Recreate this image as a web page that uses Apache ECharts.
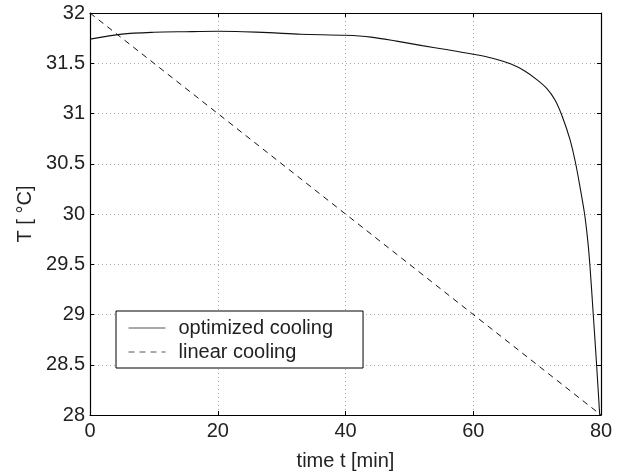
<!DOCTYPE html>
<html>
<head>
<meta charset="utf-8">
<script src="https://cdn.jsdelivr.net/npm/echarts@6/dist/echarts.min.js"></script>
<style>
html,body{margin:0;padding:0;background:#fff;}
#chart{width:627px;height:476px;}
</style>
</head>
<body>
<div id="chart"></div>
<script>
var timeOpt = [0, 5, 10, 15, 20, 24, 28, 33, 40, 44, 48, 52, 56, 60, 63, 66, 68, 70, 71.5, 72.8, 73.85, 75.15, 76.04, 76.71, 77.43, 77.92, 78.25, 78.79, 79.31, 79.8];
var tempOpt = [31.74, 31.79, 31.808, 31.814, 31.818, 31.814, 31.805, 31.788, 31.778, 31.76, 31.72, 31.675, 31.635, 31.59, 31.55, 31.49, 31.425, 31.335, 31.25, 31.135, 30.985, 30.74, 30.5, 30.27, 30.0, 29.74, 29.5, 29.0, 28.5, 28.0];
var timeLin = [0, 80];
var tempLin = [32, 28];
var seriesNames = ['optimized cooling', 'linear cooling'];
var xTicks = [0, 20, 40, 60, 80];
var yTicks = [28, 28.5, 29, 29.5, 30, 30.5, 31, 31.5, 32];

function pairs(xs, ys) { return xs.map(function (x, i) { return [x, ys[i]]; }); }

var FONT = 'Liberation Sans, Arial, Helvetica, sans-serif';
var chart = echarts.init(document.getElementById('chart'), null, {renderer: 'canvas'});

var xBase = {
  type: 'value', min: xTicks[0], max: xTicks[xTicks.length - 1], interval: xTicks[1] - xTicks[0],
  axisLine: {show: true, onZero: false, lineStyle: {color: '#000', width: 1.2}},
  axisTick: {show: true, inside: true, length: 4, lineStyle: {color: '#000'}}
};
var yBase = {
  type: 'value', min: yTicks[0], max: yTicks[yTicks.length - 1], interval: yTicks[1] - yTicks[0],
  axisLine: {show: true, onZero: false, lineStyle: {color: '#000', width: 1.2}},
  axisTick: {show: true, inside: true, length: 4, lineStyle: {color: '#000'}}
};

chart.setOption({
  backgroundColor: '#fff',
  animation: false,
  textStyle: {fontFamily: FONT},
  grid: {left: 90, right: 26, top: 13, bottom: 61, containLabel: false},
  legend: {
    orient: 'vertical', left: 116, top: 311,
    data: seriesNames,
    itemWidth: 37, itemHeight: 14, itemGap: 4,
    padding: [7, 30, 6, 12],
    borderColor: '#000', borderWidth: 1, backgroundColor: '#fff',
    textStyle: {fontFamily: FONT, fontSize: 20, color: '#222', lineHeight: 20, padding: [0, 0, 0, 8]},
    itemStyle: {opacity: 0, borderWidth: 0},
    lineStyle: {color: '#555', width: 1}
  },
  xAxis: [
    Object.assign({}, xBase, {
      position: 'bottom',
      name: 'time t [min]', nameLocation: 'middle', nameGap: 36,
      nameTextStyle: {fontFamily: FONT, fontSize: 20, color: '#222'},
      axisLabel: {show: true, margin: 6, fontFamily: FONT, fontSize: 20, color: '#222', showMinLabel: true, showMaxLabel: true},
      splitLine: {show: true, lineStyle: {color: '#aaa', width: 1, type: [1, 3]}}
    }),
    Object.assign({}, xBase, {position: 'top', axisLabel: {show: false}, splitLine: {show: false}})
  ],
  yAxis: [
    Object.assign({}, yBase, {
      position: 'left',
      name: 'T [ °C]', nameLocation: 'middle', nameGap: 55, nameRotate: 90,
      nameTextStyle: {fontFamily: FONT, fontSize: 20, color: '#222'},
      axisLabel: {show: true, margin: 5, fontFamily: FONT, fontSize: 20, color: '#222', showMinLabel: true, showMaxLabel: true},
      splitLine: {show: true, lineStyle: {color: '#aaa', width: 1, type: [1, 3]}}
    }),
    Object.assign({}, yBase, {position: 'right', axisLabel: {show: false}, splitLine: {show: false}})
  ],
  series: [
    {
      name: seriesNames[0], type: 'line', xAxisIndex: 0, yAxisIndex: 0,
      data: pairs(timeOpt, tempOpt), smooth: 0.3, symbol: 'none', showSymbol: false,
      lineStyle: {color: '#111', width: 1.1, type: 'solid'}, itemStyle: {color: '#111'}, z: 3
    },
    {
      name: seriesNames[1], type: 'line', xAxisIndex: 0, yAxisIndex: 0,
      data: pairs(timeLin, tempLin), symbol: 'none', showSymbol: false,
      lineStyle: {color: '#111', width: 1, type: [6, 5]}, itemStyle: {color: '#111'}, z: 3
    }
  ]
});
</script>
</body>
</html>
